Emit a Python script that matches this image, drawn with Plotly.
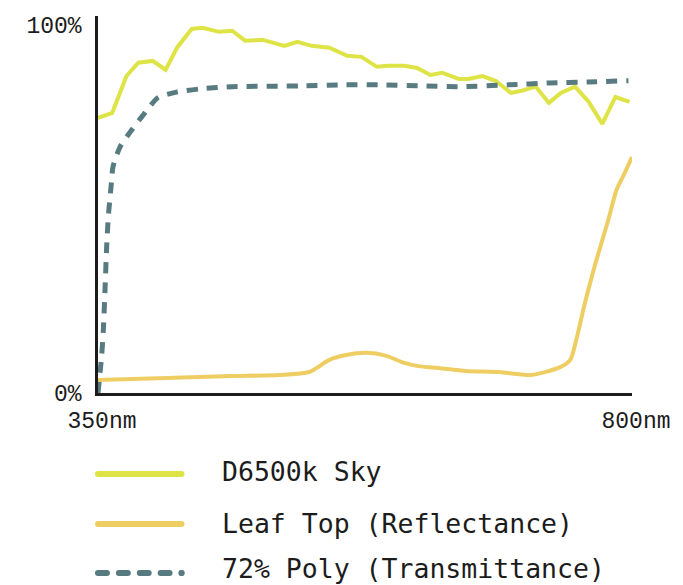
import plotly.graph_objects as go

# Spectral curves (wavelength in nm, value in %)
sky_nm = [350, 362, 374, 384, 396, 407, 417, 429, 438, 452, 463, 474, 489, 507,
          518, 530, 545, 560, 572, 585, 594, 608, 619, 630, 640, 654, 662, 674,
          685, 698, 707, 719, 730, 740, 752, 763, 775, 786, 798]
sky_pct = [74.7, 76.1, 86.1, 89.7, 90.2, 87.8, 94.0, 98.9, 99.2, 98.1, 98.4, 95.7,
           95.9, 94.3, 95.4, 94.3, 93.8, 91.6, 91.3, 88.6, 88.9, 88.9, 88.3, 86.4,
           87.0, 85.3, 85.3, 86.1, 84.8, 81.5, 82.1, 83.2, 78.8, 81.5, 83.2, 79.3,
           73.1, 80.4, 79.1]

leaf_nm = [350, 408, 463, 503, 528, 545, 559, 576, 593, 606, 620, 637, 660, 688,
           715, 740, 748, 753, 761, 770, 780, 787, 793, 800]
leaf_pct = [3.5, 4.1, 4.6, 4.9, 5.7, 9.0, 10.3, 10.9, 10.1, 8.4, 7.3, 6.8, 6.0, 5.7,
            4.9, 7.1, 9.0, 14.4, 25.3, 36.1, 47.0, 55.2, 59.2, 64.1]

poly_nm = [350, 353, 354.5, 356, 357.3, 358.8, 361, 362.6, 368.5, 378.5, 389.5, 400.4,
           417, 436, 463, 520, 559, 589, 623, 656, 696, 730, 763, 797]
poly_pct = [0, 9.8, 17.1, 28.8, 39.7, 48.4, 56.0, 61.4, 66.8, 71.5, 76.1, 80.2,
            81.8, 82.6, 83.2, 83.4, 83.7, 83.7, 83.4, 83.2, 83.7, 84.2, 84.5, 84.8]

x_ticks = [350, 800]
x_tick_text = ["350nm", "800nm"]
y_ticks = [0, 100]
y_tick_text = ["0%", "100%"]

series_names = ["D6500k Sky", "Leaf Top (Reflectance)", "72% Poly (Transmittance)"]

SKY = "#dee445"
LEAF = "#eecd63"
POLY = "#577b80"
INK = "#1c1c1c"

W, H = 683, 585
L, R, T, B = 98, 48, 16, 192
PW, PH = W - L - R, H - T - B

fig = go.Figure()
fig.add_trace(go.Scatter(x=sky_nm, y=sky_pct, mode="lines", name=series_names[0],
                         line=dict(color=SKY, width=4)))
fig.add_trace(go.Scatter(x=leaf_nm, y=leaf_pct, mode="lines", name=series_names[1],
                         line=dict(color=LEAF, width=4, shape="spline", smoothing=0.7)))
fig.add_trace(go.Scatter(x=poly_nm, y=poly_pct, mode="lines", name=series_names[2],
                         line=dict(color=POLY, width=5, dash="11px,9px",
                                   shape="spline", smoothing=0.6)))


def px_x(px):
    return (px - L) / PW


def px_y(py):
    return (H - B - py) / PH


# Hand-drawn legend below the plot: round-capped swatches and labels
shapes = []
annotations = []


def capsule(x0, x1, yc, color, r=3):
    shapes.append(dict(type="line", xref="paper", yref="paper",
                       x0=px_x(x0), x1=px_x(x1), y0=px_y(yc), y1=px_y(yc),
                       line=dict(color=color, width=2 * r)))
    for cx in (x0, x1):
        shapes.append(dict(type="circle", xref="paper", yref="paper",
                           x0=px_x(cx - r), x1=px_x(cx + r),
                           y0=px_y(yc + r), y1=px_y(yc - r),
                           fillcolor=color, line=dict(width=0)))


rows = [474, 524, 573]
text_rows = [471, 523, 568]
capsule(98, 182, rows[0], SKY)
capsule(98, 182, rows[1], LEAF)
for k in range(5):
    start = 98 + k * 21
    capsule(start, min(start + 9, 182), rows[2], POLY)

for name, yc in zip(series_names, text_rows):
    annotations.append(dict(x=px_x(222), y=px_y(yc), xref="paper", yref="paper",
                            text=name, showarrow=False, xanchor="left", yanchor="middle",
                            borderpad=0,
                            font=dict(family="DejaVu Sans Mono", size=26.5, color=INK)))

fig.update_layout(
    width=W, height=H,
    margin=dict(l=L, r=R, t=T, b=B),
    paper_bgcolor="white", plot_bgcolor="white",
    showlegend=False,
    shapes=shapes,
    annotations=annotations,
    xaxis=dict(range=[350, 800], tickvals=x_ticks, ticktext=x_tick_text,
               showgrid=False, zeroline=False, showline=True, linecolor=INK,
               linewidth=2.5, ticks="", ticklabelshift=4, ticklabelstandoff=5,
               tickfont=dict(family="Liberation Mono", size=23, color=INK)),
    yaxis=dict(range=[0, 102.4], tickvals=y_ticks, ticktext=y_tick_text,
               showgrid=False, zeroline=False, showline=True, linecolor=INK,
               linewidth=2.5, ticks="", ticklabelstandoff=9,
               tickfont=dict(family="Liberation Mono", size=23, color=INK)),
)

fig.write_html("out.html")
